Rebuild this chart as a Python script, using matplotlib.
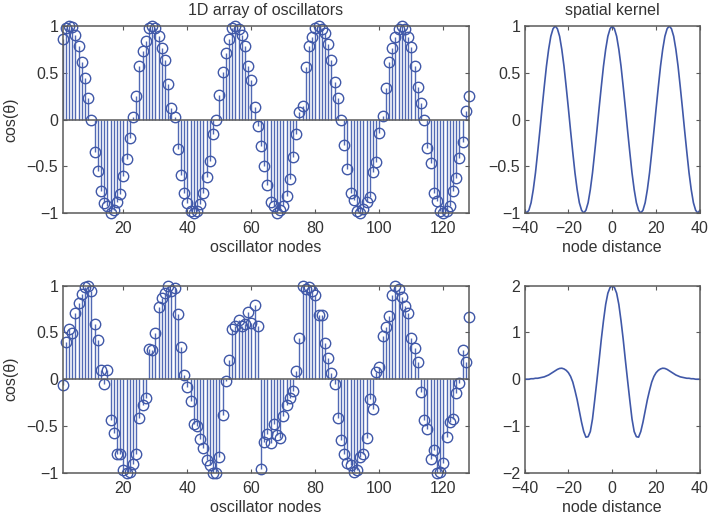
import matplotlib
matplotlib.use("Agg")
import matplotlib.pyplot as plt
import numpy as np

W, H = 709, 518
BLUE = "#4058a8"
STEM_BLUE = "#5169b4"
GRAY = "#5a5a5a"
TEXT = "#333333"

plt.rcParams["font.family"] = ["Liberation Sans", "DejaVu Sans"]
plt.rcParams["font.size"] = 11.5

# oscillator values, node 1 to 128
top_osc = [
    0.86, 0.98, 1.00, 0.99, 0.90, 0.79, 0.62, 0.44, 0.23, 0.00, -0.35, -0.55, -0.77, -0.89, -0.92, -1.00,
    -0.97, -0.88, -0.80, -0.60, -0.42, -0.20, 0.03, 0.25, 0.57, 0.73, 0.84, 0.98, 1.00, 0.98, 0.89, 0.77,
    0.64, 0.38, 0.12, 0.03, -0.32, -0.59, -0.79, -0.89, -0.98, -1.00, -0.98, -0.90, -0.79, -0.61, -0.44, -0.16,
    -0.01, 0.26, 0.51, 0.71, 0.86, 0.98, 1.00, 0.97, 0.90, 0.79, 0.57, 0.42, 0.13, -0.07, -0.28, -0.50,
    -0.70, -0.88, -0.93, -1.00, -0.97, -0.92, -0.82, -0.64, -0.40, -0.15, 0.08, 0.14, 0.56, 0.79, 0.88, 0.98,
    1.00, 0.97, 0.92, 0.81, 0.64, 0.40, 0.23, 0.00, -0.27, -0.53, -0.79, -0.86, -0.98, -1.00, -0.96, -0.88,
    -0.83, -0.56, -0.45, -0.14, 0.04, 0.34, 0.61, 0.76, 0.88, 0.97, 1.00, 0.97, 0.88, 0.78, 0.57, 0.35,
    0.18, -0.01, -0.31, -0.47, -0.79, -0.87, -0.98, -1.00, -0.98, -0.92, -0.76, -0.63, -0.41, -0.24, 0.09, 0.25,
]
bottom_osc = [
    -0.06, 0.40, 0.54, 0.49, 0.71, 0.81, 0.91, 0.99, 1.00, 0.94, 0.59, 0.42, 0.10, -0.05, 0.10, -0.44,
    -0.58, -0.80, -0.80, -0.97, -1.00, -0.99, -0.91, -0.80, -0.41, -0.28, -0.20, 0.32, 0.31, 0.49, 0.77, 0.87,
    0.92, 1.00, 0.94, 0.98, 0.70, 0.34, 0.04, -0.08, -0.23, -0.48, -0.50, -0.64, -0.74, -0.86, -0.92, -1.00,
    -1.00, -0.83, -0.38, -0.02, 0.20, 0.54, 0.57, 0.63, 0.57, 0.59, 0.72, 0.60, 0.79, 0.57, -0.96, -0.67,
    -0.59, -0.68, -0.48, -0.60, -0.63, -0.39, -0.28, -0.20, -0.13, 0.09, 0.44, 1.00, 0.97, 0.99, 0.94, 0.90,
    0.69, 0.69, 0.39, 0.23, 0.07, -0.05, -0.41, -0.65, -0.80, -0.90, -0.92, -0.99, -0.97, -0.83, -0.80, -0.63,
    -0.21, -0.32, 0.08, 0.13, 0.46, 0.56, 0.68, 0.90, 1.00, 0.97, 0.88, 0.78, 0.71, 0.44, 0.33, 0.18,
    -0.14, -0.44, -0.53, -0.85, -0.76, -1.00, -0.99, -0.90, -0.62, -0.46, -0.43, -0.15, -0.04, 0.31, 0.18, 0.66,
]
nodes = list(range(1, 129))

# kernels, node distance -40 to 40
kernel_dist = list(range(-40, 41))
top_kernel = [
    -0.97, -1.00, -0.97, -0.89, -0.75, -0.57, -0.35, -0.12, 0.12, 0.35, 0.57, 0.75, 0.89, 0.97,
    1.00, 0.97, 0.89, 0.75, 0.57, 0.35, 0.12, -0.12, -0.35, -0.57, -0.75, -0.89, -0.97,
    -1.00, -0.97, -0.89, -0.75, -0.57, -0.35, -0.12, 0.12, 0.35, 0.57, 0.75, 0.89, 0.97,
    1.00,
    0.97, 0.89, 0.75, 0.57, 0.35, 0.12, -0.12, -0.35, -0.57, -0.75, -0.89, -0.97, -1.00,
    -0.97, -0.89, -0.75, -0.57, -0.35, -0.12, 0.12, 0.35, 0.57, 0.75, 0.89, 0.97, 1.00,
    0.97, 0.89, 0.75, 0.57, 0.35, 0.12, -0.12, -0.35, -0.57, -0.75, -0.89, -0.97, -1.00, -0.97,
]
bottom_kernel = [
    0.00, 0.00, 0.00, 0.01, 0.01, 0.02, 0.02, 0.03, 0.04, 0.05, 0.07, 0.09, 0.12, 0.15, 0.18, 0.21, 0.23,
    0.235, 0.22, 0.19, 0.14, 0.06, -0.06, -0.24, -0.44, -0.68, -0.92, -1.12, -1.24, -1.23, -1.12, -0.85,
    -0.45, -0.03, 0.40, 0.85, 1.25, 1.60, 1.84, 1.96,
    2.00,
    1.96, 1.84, 1.60, 1.25, 0.85, 0.40, -0.03, -0.45, -0.85, -1.12, -1.23, -1.24, -1.12, -0.92, -0.68,
    -0.44, -0.24, -0.06, 0.06, 0.14, 0.19, 0.22, 0.235, 0.23, 0.21, 0.18, 0.15, 0.12, 0.09, 0.07, 0.05,
    0.04, 0.03, 0.02, 0.02, 0.01, 0.01, 0.00, 0.00, 0.00,
]

osc_yticks = [-1, -0.5, 0, 0.5, 1]
osc_xticks = [20, 40, 60, 80, 100, 120]
kernel_xticks = [-40, -20, 0, 20, 40]


def make_axes(fig, left, top, right, bottom):
    # pixel box to figure fraction
    return fig.add_axes([left / W, 1 - bottom / H, (right - left) / W, (bottom - top) / H])


def style_axes(ax, xlabel, xticks, yticks, ylabel=None, title=None):
    ax.set_xticks(xticks)
    ax.set_yticks(yticks)
    ax.set_yticklabels([("%g" % t).replace("-", "\u2212") for t in yticks])
    ax.set_xticklabels([("%g" % t).replace("-", "\u2212") for t in xticks])
    ax.tick_params(direction="in", length=3, width=0.8, color=GRAY, labelcolor=TEXT,
                   top=True, right=True)
    ax.tick_params(axis="x", pad=6)
    ax.tick_params(axis="y", pad=3)
    for side in ax.spines.values():
        side.set_color(GRAY)
        side.set_linewidth(1.1)
    ax.set_xlabel(xlabel, color=TEXT, labelpad=3)
    if ylabel:
        ax.set_ylabel(ylabel, color=TEXT, labelpad=6)
    if title:
        ax.set_title(title, color=TEXT, fontsize=11.5, pad=8)


def draw_stems(ax, y):
    markers, stems, base = ax.stem(nodes, y, linefmt="-", markerfmt="o", basefmt="-")
    plt.setp(stems, color=STEM_BLUE, linewidth=1.0)
    plt.setp(markers, markeredgecolor=BLUE, markerfacecolor="none", markersize=7.5,
             markeredgewidth=1.0, clip_on=False)
    plt.setp(base, color=GRAY, linewidth=1.1)
    ax.set_xlim(1, 128)
    ax.set_ylim(-1, 1)


def draw_kernel(ax, y, ylim):
    ax.plot(kernel_dist, y, color=BLUE, linewidth=1.2)
    ax.set_xlim(-40, 40)
    ax.set_ylim(*ylim)


fig = plt.figure(figsize=(W / 100, H / 100), dpi=100)

ax = make_axes(fig, 62.5, 26, 469, 213)
draw_stems(ax, top_osc)
style_axes(ax, "oscillator nodes", osc_xticks, osc_yticks, "cos(\u03b8)", "1D array of oscillators")

ax = make_axes(fig, 62.5, 285.7, 469, 472.7)
draw_stems(ax, bottom_osc)
style_axes(ax, "oscillator nodes", osc_xticks, osc_yticks, "cos(\u03b8)")

ax = make_axes(fig, 524.5, 26, 700, 213)
draw_kernel(ax, top_kernel, (-1, 1))
style_axes(ax, "node distance", kernel_xticks, osc_yticks, title="spatial kernel")

ax = make_axes(fig, 524.5, 285.7, 700, 472.7)
draw_kernel(ax, bottom_kernel, (-2, 2))
style_axes(ax, "node distance", kernel_xticks, [-2, -1, 0, 1, 2])

fig.savefig("out.png", dpi=100)
